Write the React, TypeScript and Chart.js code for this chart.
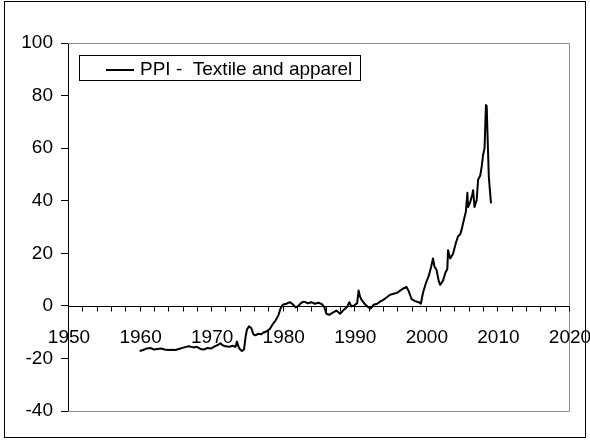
import { useEffect, useRef } from 'react';
import { Chart, registerables } from 'chart.js';

Chart.register(...registerables);

const seriesLabel = 'PPI -  Textile and apparel';

const years = [
  1960.0, 1960.5, 1961.0, 1961.5, 1962.0, 1962.5, 1963.0, 1963.5, 1964.0, 1964.5,
  1965.0, 1965.5, 1966.0, 1966.5, 1967.0, 1967.5, 1968.0, 1968.5, 1969.0, 1969.5,
  1970.0, 1970.5, 1971.0, 1971.3, 1971.6, 1972.0, 1972.5, 1973.0, 1973.4, 1973.6,
  1973.8, 1974.0, 1974.3, 1974.6, 1974.8, 1975.0, 1975.3, 1975.6, 1975.9, 1976.2,
  1976.6, 1977.0, 1977.4, 1977.8, 1978.2, 1978.6, 1979.0, 1979.4, 1979.7, 1980.0,
  1980.5, 1981.0, 1981.4, 1981.8, 1982.2, 1982.6, 1983.0, 1983.5, 1984.0, 1984.5,
  1985.0, 1985.5, 1985.8, 1986.1, 1986.5, 1987.0, 1987.5, 1988.0, 1988.5, 1989.0,
  1989.3, 1989.6, 1990.0, 1990.4, 1990.6, 1990.8, 1991.0, 1991.5, 1992.0, 1992.3,
  1992.7, 1993.2, 1993.6, 1994.0, 1994.5, 1995.0, 1995.5, 1996.0, 1996.5, 1997.0,
  1997.3, 1997.6, 1998.0, 1998.5, 1999.0, 1999.3, 1999.6, 2000.0, 2000.4, 2000.7,
  2001.0, 2001.2, 2001.5, 2001.8, 2002.0, 2002.4, 2002.7, 2003.0, 2003.1, 2003.4,
  2003.8, 2004.2, 2004.5, 2004.8, 2005.0, 2005.3, 2005.6, 2005.8, 2005.9, 2006.2,
  2006.5, 2006.6, 2006.8, 2007.1, 2007.3, 2007.6, 2007.8, 2008.0, 2008.2, 2008.4,
  2008.5, 2008.6, 2008.8, 2009.1,
];

const ppi = [
  -17.2, -16.8, -16.2, -16.0, -16.6, -16.4, -16.2, -16.6, -16.8, -16.7,
  -16.8, -16.4, -16.0, -15.6, -15.4, -15.8, -15.6, -16.4, -16.6, -16.0,
  -16.2, -15.4, -14.8, -14.2, -15.0, -15.4, -15.6, -15.2, -15.6, -13.6,
  -15.4, -16.4, -17.2, -16.6, -12.0, -9.0, -7.8, -8.4, -10.8, -11.2,
  -10.6, -10.8, -10.0, -9.6, -8.8, -7.0, -5.6, -3.6, -1.0, 0.4,
  0.8, 1.4, 0.6, -0.6, 0.0, 1.2, 1.6, 1.0, 1.4, 0.8,
  1.2, 0.6, -0.4, -3.0, -3.4, -2.6, -1.8, -3.0, -1.6, -0.4,
  1.4, -0.2, 0.2, 1.0, 5.8, 3.6, 2.4, 0.6, -0.6, -1.0,
  0.4, 0.8, 1.6, 2.2, 3.2, 4.2, 4.6, 5.0, 6.0, 6.8,
  7.2, 5.6, 2.6, 1.8, 1.4, 0.8, 5.0, 8.6, 11.4, 14.4,
  18.0, 15.0, 13.6, 9.4, 8.0, 9.6, 12.4, 14.0, 21.2, 18.0,
  19.8, 24.0, 26.5, 27.2, 29.0, 32.6, 36.0, 43.0, 37.6, 39.5,
  42.5, 44.0, 37.6, 40.3, 48.0, 49.6, 53.0, 57.5, 60.0, 76.4,
  76.0, 66.5, 49.0, 39.0,
];

const yTickValues = [-40, -20, 0, 20, 40, 60, 80, 100];
const xTickLabels = [1950, 1960, 1970, 1980, 1990, 2000, 2010, 2020];
const xMinorStep = 2;

const FONT_FAMILY = '"Liberation Sans", Arial, Helvetica, sans-serif';

export default function App() {
  const ref = useRef<HTMLCanvasElement>(null);

  useEffect(() => {
    if (!ref.current) return;
    const font = `19px ${FONT_FAMILY}`;

    const decor = {
      id: 'excelDecor',
      beforeDatasetsDraw(chart: any) {
        const { ctx, chartArea: a, scales } = chart;
        const x = scales.x;
        const y = scales.y;
        ctx.save();
        // grey plot border (top, right, bottom)
        ctx.strokeStyle = '#8c8c8c';
        ctx.lineWidth = 1;
        ctx.beginPath();
        ctx.moveTo(a.left, Math.round(a.top) + 0.5);
        ctx.lineTo(Math.round(a.right) + 0.5, Math.round(a.top) + 0.5);
        ctx.lineTo(Math.round(a.right) + 0.5, Math.round(a.bottom) + 0.5);
        ctx.lineTo(a.left, Math.round(a.bottom) + 0.5);
        ctx.stroke();

        // x axis crossing at y = 0
        const y0 = Math.round(y.getPixelForValue(0)) + 0.5;
        ctx.strokeStyle = '#000';
        ctx.beginPath();
        ctx.moveTo(a.left, y0);
        ctx.lineTo(a.right + 1, y0);
        const xmin = xTickLabels[0];
        const xmax = xTickLabels[xTickLabels.length - 1];
        for (let v = xmin; v <= xmax; v += xMinorStep) {
          const px = Math.round(x.getPixelForValue(v)) + 0.5;
          ctx.moveTo(px, y0);
          ctx.lineTo(px, y0 + 5);
        }
        ctx.stroke();

        ctx.fillStyle = '#000';
        ctx.font = font;
        ctx.textAlign = 'center';
        ctx.textBaseline = 'alphabetic';
        for (const v of xTickLabels) {
          ctx.fillText(String(v), x.getPixelForValue(v) + 1, y0 + 36);
        }
        ctx.restore();
      },
      afterDraw(chart: any) {
        const { ctx } = chart;
        const ds = chart.data.datasets[0];
        ctx.save();
        // legend box
        ctx.fillStyle = '#fff';
        ctx.fillRect(79.5, 55.5, 281, 25);
        ctx.strokeStyle = '#000';
        ctx.lineWidth = 1;
        ctx.strokeRect(79.5, 55.5, 281, 25);
        ctx.strokeStyle = ds.borderColor;
        ctx.lineWidth = 2;
        ctx.beginPath();
        ctx.moveTo(106, 70);
        ctx.lineTo(134, 70);
        ctx.stroke();
        ctx.fillStyle = '#000';
        ctx.font = font;
        ctx.textAlign = 'left';
        ctx.textBaseline = 'alphabetic';
        ctx.fillText(ds.label, 140, 75);
        // outer border
        ctx.strokeStyle = '#000';
        ctx.lineWidth = 1;
        ctx.strokeRect(4.5, 1.5, 581, 436);
        ctx.restore();
      },
    };

    const chart = new Chart(ref.current, {
      type: 'line',
      data: {
        datasets: [
          {
            label: seriesLabel,
            data: years.map((yr, i) => ({ x: yr, y: ppi[i] })),
            borderColor: '#000',
            borderWidth: 2,
            pointRadius: 0,
            tension: 0,
            fill: false,
            borderJoinStyle: 'round',
          },
        ],
      },
      options: {
        animation: false,
        responsive: false,
        devicePixelRatio: 1,
        layout: { padding: { left: 0, top: 43, right: 21, bottom: 32 } },
        plugins: { legend: { display: false }, tooltip: { enabled: false } },
        scales: {
          x: {
            type: 'linear',
            min: xTickLabels[0],
            max: xTickLabels[xTickLabels.length - 1],
            display: false,
          },
          y: {
            type: 'linear',
            min: yTickValues[0],
            max: yTickValues[yTickValues.length - 1],
            afterBuildTicks: (scale: any) => {
              scale.ticks = yTickValues.map((v) => ({ value: v }));
            },
            afterFit: (scale: any) => {
              scale.width = 68;
            },
            ticks: {
              color: '#000',
              font: { family: FONT_FAMILY, size: 19 },
              padding: 8,
            },
            grid: {
              drawOnChartArea: false,
              drawTicks: true,
              tickLength: 7,
              color: '#000',
            },
            border: { display: true, color: '#000' },
          },
        },
      },
      plugins: [decor],
    });

    return () => chart.destroy();
  }, []);

  return (
    <div style={{ position: 'fixed', left: 0, top: 0, width: 590, height: 443, background: '#fff' }}>
      <canvas ref={ref} width={590} height={443} style={{ display: 'block' }} />
    </div>
  );
}
